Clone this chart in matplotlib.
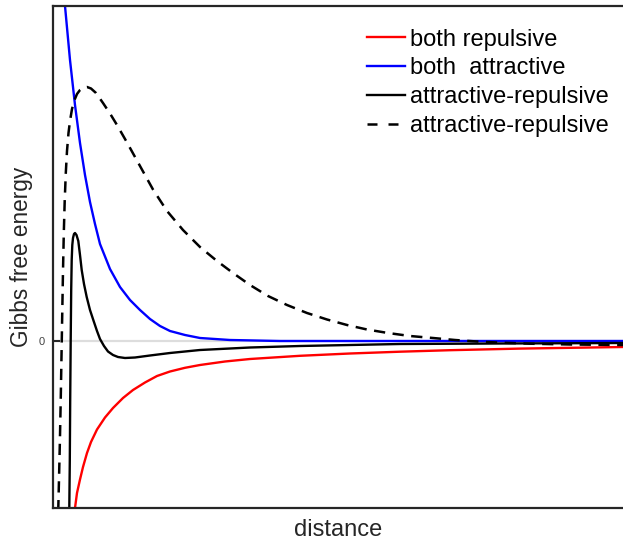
# -----------------
# import libraries
# -----------------
import numpy as np
import matplotlib
matplotlib.use("Agg")
import matplotlib.pyplot as plt

plt.rcParams["font.family"] = ["Liberation Sans", "DejaVu Sans"]

# ---------------------------------------------
# Curves (arbitrary units)
# ---------------------------------------------
# both repulsive
rep_x = [21, 22, 24, 27, 30, 34, 38, 44, 52, 60, 70, 80, 92, 104, 117, 132,
         147, 172, 197, 247, 297, 347, 397, 467, 570]
rep_y = [-177, -167, -152, -138.5, -126, -112, -101, -88.5, -76.5, -67, -57,
         -49, -41.5, -35, -30.5, -26.8, -24, -20.5, -18, -14.8, -12.5, -10.7,
         -9.2, -7.6, -6]

# both attractive
att_x = [9, 12, 17, 22, 27, 32, 37, 42, 47, 57, 67, 77, 87, 97, 107, 117,
         132, 147, 177, 227, 570]
att_y = [372, 335, 281, 236, 198, 166, 139, 117, 97, 72, 54, 41, 31, 22, 15,
         10, 6, 3, 1, 0, 0]

# attractive-repulsive (solid)
ar_x = [16, 16.3, 16.8, 17.2, 17.7, 18.2, 18.7, 19.3, 20, 21, 22, 23.5, 25.3,
        27, 28.7, 31, 33.7, 37, 40.3, 44, 47, 51, 55, 60, 65, 72, 82, 97,
        117, 147, 197, 247, 347, 447, 570]
ar_y = [-189, -167, -119, -59, 1, 51, 81, 96, 103, 107, 108, 106, 100, 86, 71,
        57, 44, 31, 21, 10, 2, -5, -10.5, -14, -16, -17, -16.5, -14.5, -12,
        -9, -6.5, -5, -3, -2.5, -2]

# attractive-repulsive (dashed)
ar2_x = [4.6, 5.3, 6.2, 7, 7.8, 8.5, 9.2, 10, 10.8, 11.7, 12.8, 14, 15.5, 17,
         19, 21.5, 24, 27, 30.5, 34, 38, 43, 50, 57, 64, 74, 87, 100, 114,
         130, 147, 164, 180, 197, 215, 234, 254, 274, 294, 314, 335, 357, 380,
         402, 424, 444, 477, 517, 570]
ar2_y = [-189, -167, -130, -95, -55, -15, 25, 70, 108, 140, 168, 190, 208, 220,
         232, 241, 247, 251, 253.5, 254, 252.5, 248, 238, 227.5, 216, 198.5,
         175, 151.5, 130, 111, 94, 80, 68, 56, 45, 36, 28, 21.5, 16, 11.5, 8,
         5, 3, 1, -0.5, -1.5, -2.7, -3.5, -4]

# ----------------
# Visualization
# ----------------
fig = plt.figure(figsize=(6.23, 5.42), dpi=100)
ax = fig.add_axes([53 / 623, 1 - 508 / 542, 1 - 53 / 623, 502 / 542])

ax.axhline(0, color="#dddddd", lw=1.6, zorder=0)

ax.plot(rep_x, rep_y, color="red", lw=1.7, label="both repulsive")
ax.plot(att_x, att_y, color="blue", lw=1.7, label="both  attractive")
ax.plot(ar_x, ar_y, color="black", lw=1.7, label="attractive-repulsive")
ax.plot(ar2_x, ar2_y, color="black", lw=1.8, dashes=(4.5, 3),
        label="attractive-repulsive")

ax.set_xlim(0, 570)
ax.set_ylim(-167, 335)
ax.set_xticks([])
ax.set_yticks([0])
ax.tick_params(axis="y", direction="in", length=5, width=1.5,
               labelsize=8, labelcolor="#444444", color="#262626", pad=6)

for side in ["left", "top", "bottom"]:
    ax.spines[side].set_color("#262626")
    ax.spines[side].set_linewidth(1.6)
ax.spines["right"].set_visible(False)

ax.set_xlabel("distance", fontsize=17, color="#262626", labelpad=8)
ax.set_ylabel("Gibbs free energy", fontsize=16.3, color="#262626", labelpad=4)

leg = ax.legend(loc="upper right", bbox_to_anchor=(1.004, 0.988), frameon=False,
                fontsize=17, handlelength=1.6, handletextpad=0.22,
                labelspacing=0.29, borderaxespad=0.3)
leg.get_lines()[3].set_dashes((4, 4.4))

fig.savefig("out.png", dpi=100)
